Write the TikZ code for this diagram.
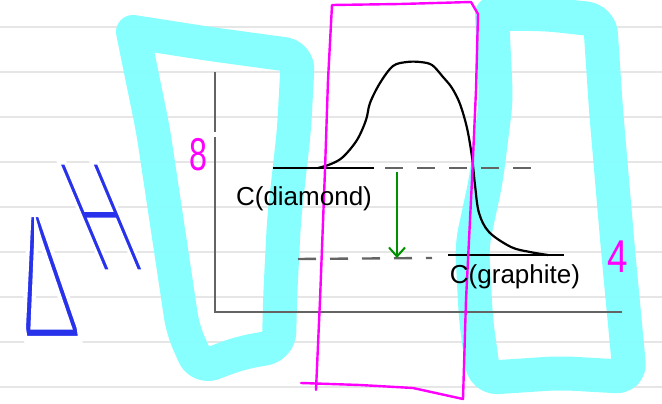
\documentclass[tikz,border=0pt]{standalone}
\usepackage{fontspec}
\setmainfont{Liberation Sans}
\usetikzlibrary{arrows.meta}
\definecolor{hl}{RGB}{128,255,255}
\definecolor{mag}{RGB}{255,0,255}
\definecolor{penblue}{RGB}{40,50,235}
\definecolor{pengreen}{RGB}{0,145,0}
\definecolor{axisgray}{RGB}{100,100,100}
\definecolor{rulegray}{RGB}{230,230,230}
% thin the glyphs: fill, then stroke the outline in the background colour
\newcommand\thinpenon{\special{pdf:literal direct 2 Tr 1 1 1 RG 3.4 w}}
\newcommand\thinpenoff{\special{pdf:literal direct 0 Tr}}
\tikzset{
  ruling/.style={draw=rulegray, line width=2pt},
  highlighter/.style={draw=hl, line width=34pt, line cap=round, line join=round, rounded corners=14pt, draw opacity=0.93},
  magpen/.style={draw=mag, line width=2.4pt, line cap=round, line join=round},
  axisline/.style={draw=axisgray, line width=2.6pt},
  level/.style={draw=black, line width=2.4pt},
  dashlevel/.style={draw=axisgray, line width=2.4pt, dash pattern=on 18pt off 14pt},
  curve/.style={draw=black, line width=2.2pt, line cap=round, line join=round},
  hand/.style={inner sep=0pt, font=\fontsize{26}{26}\selectfont},
  maglabel/.style={inner sep=0pt, text=mag, font=\fontsize{46}{46}\selectfont},
  bluehand/.style={inner sep=0pt, text=penblue, anchor=south west, transform shape, font=\fontsize{80}{80}\selectfont},
}
\begin{document}
\begin{tikzpicture}[x=1pt,y=-1pt]
\useasboundingbox (0,0) rectangle (662,404);
\fill[white] (0,0) rectangle (662,404);
% notebook rulings
\foreach \yy in {27,72,...,387} \draw[ruling] (0,\yy) -- (662,\yy);
% cyan highlighter loops
\draw[highlighter] (133,32) -- (210,44) -- (298,56) -- (294,130) -- (284,220) -- (280,300) -- (279,346) -- (240,353) -- (200,368) -- (183,330) -- (168,230) -- (153,130) -- (133,32);
\draw[highlighter] (492,14) -- (545,14) -- (600,20) -- (606,110) -- (618,250) -- (630,377) -- (560,373) -- (484,378) -- (476,320) -- (472,245) -- (486,180) -- (496,100) -- (492,14);
% axes
\coordinate (ytop) at (215,72);
\coordinate (ybrk) at (215,132);
\coordinate (ybrk2) at (215,137);
\coordinate (origin) at (215,312);
\coordinate (xend) at (622,312);
\draw[axisline] (ytop) -- (ybrk);
\draw[axisline] (ybrk2) -- (origin) -- (xend);
% levels
\coordinate (dA) at (273,168);
\coordinate (dB) at (374,168);
\coordinate (dC) at (385,168);
\coordinate (dD) at (540,168);
\coordinate (gA) at (448,255);
\coordinate (gB) at (564,255);
\coordinate (gC) at (298,259);
\coordinate (gD) at (432,258);
\draw[level] (dA) -- (dB);
\draw[dashlevel] (dC) -- (dD);
\draw[level] (gA) -- (gB);
\draw[dashlevel] (gC) -- (gD);
% energy curve
\draw[curve] plot[smooth, tension=0.55] coordinates {(318,168) (331,164) (343,157) (357,140) (366,120) (370,103) (380,83) (393,66) (407,62) (420,62) (432,65) (443,77) (452,88) (460,104) (467,128) (472,157) (475,185) (479,213) (489,232) (511,247) (530,252) (548,255)};
% green arrow
\coordinate (arrtop) at (397,172);
\coordinate (arrbot) at (397,258);
\draw[draw=pengreen, line width=2pt, -{Straight Barb[length=9pt,width=16pt,line width=2pt]}] (arrtop) -- (arrbot);
% magenta box
\draw[magpen] (301,383) -- (360,385) -- (413,388) -- (463,399) -- (466,300) -- (472,180) -- (476,90) -- (478,14) -- (471,2) -- (400,4) -- (332,5) -- (328,80) -- (325,170) -- (320,300) -- (316,390);
% labels
\node[hand] (diam) at (304,199) {C(diamond)};
\node[hand] (graph) at (515,277) {C(graphite)};
\node[maglabel] (eight) at (198,155) {\scalebox{0.7}[1]{8}};
\node[maglabel] (four) at (618,257) {\scalebox{0.8}[1]{4}};
% Delta H (handwritten)
\node[bluehand, xslant=-0.15] (delta) at (23,340) {\scalebox{1.12}[2.3]{\thinpenon Δ\thinpenoff}};
\node[bluehand, xslant=-0.42] (hletter) at (99,273) {\scalebox{0.88}[2.03]{\thinpenon H\thinpenoff}};
\end{tikzpicture}
\end{document}
